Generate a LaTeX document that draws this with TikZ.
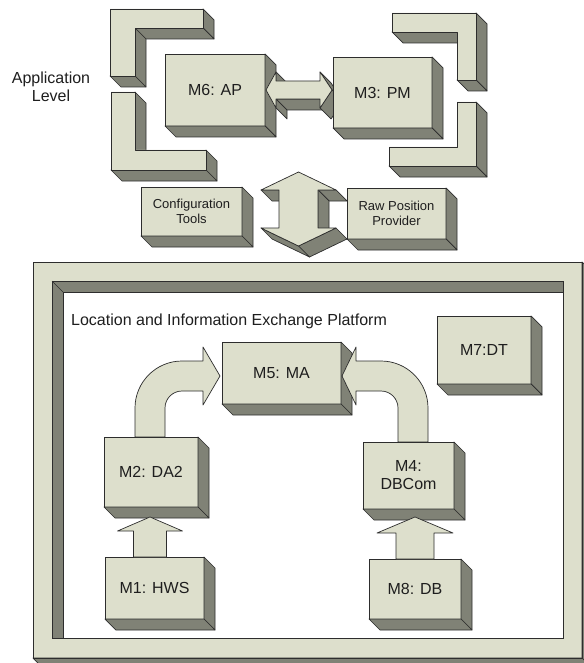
\documentclass[tikz,border=0pt]{standalone}
\usepackage{fontspec}
\setmainfont{Liberation Sans}
\usetikzlibrary{calc}
\definecolor{facec}{RGB}{221,223,204}
\definecolor{sidec}{RGB}{128,130,118}
\definecolor{edgec}{RGB}{45,45,45}
\definecolor{textc}{RGB}{30,30,30}
\newcommand{\xdep}{11}
\newcommand{\sideface}[2]{\filldraw[sidef] (#1) -- (#2) -- ($(#2)+(\xdep,\xdep)$) -- ($(#1)+(\xdep,\xdep)$) -- cycle;}
\newcommand{\modbox}[6]{%
  \node[facebox, minimum width={(#4-#2)*1pt}, minimum height={(#5-#3)*1pt}, anchor=north west] (#1) at (#2,#3) {#6};
  \sideface{#1.north east}{#1.south east}
  \sideface{#1.south east}{#1.south west}}
\begin{document}
\begin{tikzpicture}[x=1pt,y=-1pt,
  facebox/.style={draw=edgec, fill=facec, line width=0.7pt, inner sep=0pt, outer sep=0pt, text=textc, align=center, font=\fontsize{16}{18}\selectfont},
  smallbox/.style={facebox, font=\fontsize{13}{15.5}\selectfont},
  sidef/.style={draw=edgec, fill=sidec, line width=0.7pt, line join=round},
  facepoly/.style={draw=edgec, fill=facec, line width=0.7pt, line join=round},
  lbl/.style={text=textc, inner sep=0pt, align=center}]
\useasboundingbox (0,0) rectangle (583,663);
\fill[white] (0,0) rectangle (583,663);

% Application level label
\node[lbl, font=\fontsize{16}{18.5}\selectfont] (applevel) at (51,87) {Application\\Level};

% top-left brackets
\sideface{203,9}{203,28}
\sideface{135,28}{203,28}
\sideface{135,28}{135,76}
\sideface{110,76}{135,76}
\draw[facepoly] (110,9) -- (203,9) -- (203,28) -- (135,28) -- (135,76) -- (110,76) -- cycle;

\sideface{135,92}{135,150}
\sideface{206,150}{206,170}
\sideface{111,170}{206,170}
\draw[facepoly] (111,92) -- (135,92) -- (135,150) -- (206,150) -- (206,170) -- (111,170) -- cycle;

% top-right brackets
\sideface{392,32}{457,32}
\sideface{476,13}{476,80}
\sideface{457,80}{476,80}
\draw[facepoly] (392,13) -- (476,13) -- (476,80) -- (457,80) -- (457,32) -- (392,32) -- cycle;

\sideface{476,102}{476,166}
\sideface{389,166}{476,166}
\draw[facepoly] (457,102) -- (476,102) -- (476,166) -- (389,166) -- (389,147) -- (457,147) -- cycle;

% M6, double arrow, M3
\modbox{m6}{165}{54}{265}{126}{M6: AP}
\sideface{276,72}{276,81}
\sideface{276,99}{276,108}
\sideface{276,99}{320,99}
\sideface{320,72}{332,90}
\sideface{332,90}{320,108}
\draw[facepoly] (266,90) -- (276,72) -- (276,81) -- (320,81) -- (320,72) -- (332,90) -- (320,108) -- (320,99) -- (276,99) -- (276,108) -- cycle;
\modbox{m3}{333}{57}{432}{128}{M3: PM}

% vertical double arrow and side boxes
\sideface{261,190}{279,190}
\sideface{318,190}{336,190}
\sideface{318,190}{318,228}
\sideface{336,228}{298.5,246}
\sideface{298.5,246}{261,228}
\draw[facepoly] (298.5,172) -- (336,190) -- (318,190) -- (318,228) -- (336,228) -- (298.5,246) -- (261,228) -- (279,228) -- (279,190) -- (261,190) -- cycle;
\node[smallbox, minimum width=101pt, minimum height=49pt, anchor=north west] (ct) at (141,187) {Configuration\\Tools};
\sideface{ct.north east}{ct.south east}
\sideface{ct.south east}{ct.south west}
\node[smallbox, minimum width=99pt, minimum height=51pt, anchor=north west] (rpp) at (347,188) {Raw Position\\Provider};
\sideface{rpp.north east}{rpp.south east}
\sideface{rpp.south east}{rpp.south west}

% platform frame
\fill[facec, even odd rule] (33,262) rectangle (582,658) (52,281) rectangle (563,638);
\sideface{582,262}{582,658}
\sideface{33,658}{582,658}
\draw[edgec, line width=0.7pt] (33,262) rectangle (582,658);
\begin{scope}
  \clip (52,281) rectangle (563,638);
  \filldraw[sidef] (52,281) -- (580,281) -- (580,292) -- (63,292) -- (63,660) -- (52,660) -- cycle;
\end{scope}
\draw[edgec, line width=0.7pt] (52,281) rectangle (563,638);
\draw[edgec, line width=0.7pt] (52,281) -- (63,292);
\node[lbl, anchor=base west, font=\fontsize{16}{18}\selectfont] (lie) at (71,325) {Location and Information Exchange Platform};

% modules
\modbox{m7}{437}{316}{531}{384}{M7:DT}
\modbox{m5}{222}{342}{341}{404}{M5: MA}

% curved arrows to M5
\draw[facepoly] (135,437) -- (135,408) arc[start angle=180, end angle=270, radius=47] -- (203,361) -- (203,347) -- (220,376) -- (203,405) -- (203,391) -- (182,391) arc[start angle=270, end angle=180, radius=17] -- (165,437) -- cycle;
\draw[facepoly] (428,442) -- (428,408) arc[start angle=0, end angle=-90, radius=47] -- (356,361) -- (356,347) -- (342,376) -- (356,405) -- (356,391) -- (381,391) arc[start angle=-90, end angle=0, radius=17] -- (398,442) -- cycle;

\modbox{m2}{104}{437}{198}{507}{M2: DA2}
\modbox{m4}{363}{442}{454}{509}{M4:\\DBCom}
\modbox{m1}{105}{557}{204}{619}{M1: HWS}
\modbox{m8}{369}{559}{461}{619}{M8: DB}

% small up arrows
\draw[facepoly] (150,517) -- (182.5,531) -- (166.5,531) -- (166.5,557) -- (133.5,557) -- (133.5,531) -- (117.5,531) -- cycle;
\draw[facepoly] (415,517) -- (453,533) -- (434,533) -- (434,559) -- (396,559) -- (396,533) -- (377,533) -- cycle;
\end{tikzpicture}
\end{document}
